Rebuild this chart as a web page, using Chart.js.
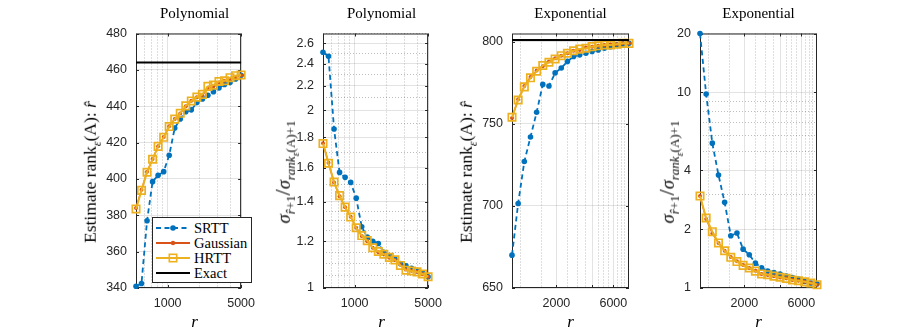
<!DOCTYPE html>
<html><head><meta charset="utf-8">
<script src="https://cdn.jsdelivr.net/npm/chart.js@4.4.0/dist/chart.umd.min.js"></script>
<style>
html,body{margin:0;padding:0;background:#fff;}
body{width:913px;height:332px;position:relative;overflow:hidden;}
canvas{position:absolute;}
.t{position:absolute;font-family:'Liberation Serif','Times New Roman',serif;color:#000;white-space:nowrap;line-height:1;}
.ttl{font-size:15px;transform:translate(-50%,-50%);}
.xl{font-size:17px;font-style:italic;transform:translate(-50%,-50%);}
.yl{font-size:17.5px;transform:translate(-50%,-50%) rotate(-90deg);}
.yl sub{font-size:12px;}
.ys{font-size:18.5px;transform:translate(-50%,-50%) rotate(-90deg);}
.ys sub{font-size:13px;}
.ys sub sub{font-size:10px;}
#legend{position:absolute;left:152px;top:217px;width:100px;height:66px;border:1px solid #262626;background:#fff;box-sizing:border-box;}
#legend .row{position:absolute;left:2px;height:14px;display:flex;align-items:center;}
#legend .row span{font-family:'Liberation Serif','Times New Roman',serif;font-size:14.5px;margin-left:3px;line-height:1;}
</style>
</head><body>
<canvas id="c1" width="172" height="301"></canvas>
<canvas id="c2" width="172" height="301"></canvas>
<canvas id="c3" width="172" height="301"></canvas>
<canvas id="c4" width="172" height="301"></canvas>

<div class="t ttl" style="left:194.5px;top:13px;">Polynomial</div>
<div class="t ttl" style="left:381.5px;top:13px;">Polynomial</div>
<div class="t ttl" style="left:570.5px;top:13px;">Exponential</div>
<div class="t ttl" style="left:758.5px;top:13px;">Exponential</div>

<div class="t xl" style="left:194.5px;top:321px;">r</div>
<div class="t xl" style="left:381.5px;top:321px;">r</div>
<div class="t xl" style="left:570.5px;top:321px;">r</div>
<div class="t xl" style="left:758.5px;top:321px;">r</div>

<div class="t yl" style="left:92px;top:172px;">Estimate rank<sub><i>ε</i></sub>(A): <i>r&#770;</i></div>
<div class="t yl" style="left:468px;top:172px;">Estimate rank<sub><i>ε</i></sub>(A): <i>r&#770;</i></div>
<div class="t ys" style="left:286px;top:172px;"><i>σ</i><sub><i>r&#770;</i>+1</sub><span style="font-size:22px">/</span><i>σ</i><sub><i>rank</i><sub><i>ε</i></sub>(A)+1</sub></div>
<div class="t ys" style="left:670px;top:172px;"><i>σ</i><sub><i>r&#770;</i>+1</sub><span style="font-size:22px">/</span><i>σ</i><sub><i>rank</i><sub><i>ε</i></sub>(A)+1</sub></div>

<div id="legend">
  <div class="row" style="top:3px;"><svg width="36" height="12"><line x1="1" y1="6" x2="35" y2="6" stroke="#0072BD" stroke-width="1.8" stroke-dasharray="5,3.5"/><circle cx="18" cy="6" r="2.8" fill="#0072BD"/></svg><span>SRTT</span></div>
  <div class="row" style="top:18px;"><svg width="36" height="12"><line x1="1" y1="6" x2="35" y2="6" stroke="#D95319" stroke-width="1.8"/><circle cx="18" cy="6" r="2.2" fill="#D95319"/></svg><span>Gaussian</span></div>
  <div class="row" style="top:33px;"><svg width="36" height="12"><line x1="1" y1="6" x2="35" y2="6" stroke="#EDB120" stroke-width="1.8"/><rect x="14.3" y="2.3" width="7.4" height="7.4" fill="none" stroke="#EDB120" stroke-width="1.6"/></svg><span>HRTT</span></div>
  <div class="row" style="top:48px;"><svg width="36" height="12"><line x1="1" y1="6" x2="35" y2="6" stroke="#000" stroke-width="2"/></svg><span>Exact</span></div>
</div>

<script>
// ---------------- data ----------------
const rPoly = [500, 564, 637, 719, 812, 917, 1035, 1168, 1318, 1488, 1680, 1896, 2141, 2416, 2728, 3079, 3476, 3924, 4429, 5000];
const rExp  = [850, 957, 1078, 1214, 1367, 1539, 1733, 1952, 2198, 2475, 2787, 3138, 3534, 3979, 4481, 5046, 5682, 6398, 7205, 8113];

const polyExact = 464;
const polyRankSRTT  = [341, 342.5, 377, 398.5, 402, 404, 413, 428, 433, 437, 438, 442, 444, 446, 448, 450, 452, 453, 455, 457];
const polyRankGauss = [384, 394, 404, 411, 418, 423, 429, 433, 436, 440, 443, 445, 446, 450, 451, 453, 454, 455, 456, 457];
const polyRankHRTT  = [383.5, 393.7, 403.7, 410.8, 417.9, 422.9, 428.8, 432.9, 436.1, 440.2, 442.9, 445, 446.5, 450.9, 451.6, 453.6, 454, 455.7, 456.8, 457.2];

const polyRatioSRTT  = [2.51, 2.47, 1.86, 1.57, 1.54, 1.51, 1.42, 1.27, 1.22, 1.2, 1.19, 1.15, 1.135, 1.12, 1.1, 1.09, 1.08, 1.07, 1.06, 1.045];
const polyRatioGauss = [1.76, 1.63, 1.51, 1.43, 1.37, 1.32, 1.265, 1.225, 1.2, 1.17, 1.15, 1.14, 1.125, 1.115, 1.095, 1.075, 1.07, 1.065, 1.055, 1.045];
const polyRatioHRTT  = [1.757, 1.627, 1.512, 1.434, 1.371, 1.319, 1.265, 1.227, 1.203, 1.17, 1.153, 1.141, 1.127, 1.116, 1.092, 1.072, 1.069, 1.065, 1.056, 1.045];

const expExact = 801;
const expRankSRTT  = [670, 701.5, 727, 742, 757, 774, 773, 781, 784, 788, 791, 792, 793, 794, 795, 796, 797, 798, 798.5, 799];
const expRankGauss = [753.5, 765, 773, 778.5, 782.5, 785, 788, 790, 791.5, 793, 794.5, 795, 796.5, 797, 797.5, 798, 798.5, 798.5, 799, 799];
const expRankHRTT  = [754, 764.5, 772.5, 778, 782, 785.5, 787.5, 789.5, 791.5, 793, 794.5, 795.5, 796, 797, 797.5, 798, 798, 798.5, 799, 799];

const expRatioSRTT  = [20, 9.8, 5.5, 3.78, 2.74, 1.85, 1.91, 1.58, 1.48, 1.34, 1.27, 1.22, 1.2, 1.18, 1.15, 1.13, 1.11, 1.08, 1.06, 1.05];
const expRatioGauss = [2.95, 2.25, 1.9, 1.7, 1.55, 1.44, 1.37, 1.31, 1.265, 1.225, 1.18, 1.165, 1.15, 1.13, 1.12, 1.1, 1.09, 1.075, 1.06, 1.04];
const expRatioHRTT  = [2.95, 2.28, 1.94, 1.7, 1.55, 1.435, 1.365, 1.305, 1.265, 1.22, 1.18, 1.17, 1.15, 1.135, 1.12, 1.1, 1.09, 1.075, 1.06, 1.04];

// tick values / labels
const polyXTicks  = [500, 600, 700, 800, 900, 1000, 2000, 3000, 4000, 5000];
const polyXLabels = [1000, 5000];
const polyXMajor  = [1000, 5000];
const expXTicks   = [1000, 1500, 2000, 2500, 3000, 3500, 4000, 4500, 5000, 5500, 6000, 6500, 7000, 7500, 8000];
const expXLabels  = [2000, 6000];
const expXMajor   = [2000, 4000, 6000];

const rank1YTicks = [340, 360, 380, 400, 420, 440, 460, 480];
const ratio1YTicks = [1, 1.05, 1.1, 1.15, 1.2, 1.25, 1.3, 1.35, 1.4, 1.5, 1.6, 1.7, 1.8, 1.9, 2, 2.1, 2.2, 2.3, 2.4, 2.5, 2.6, 2.7];
const ratio1YLabels = [1, 1.2, 1.4, 1.6, 1.8, 2, 2.2, 2.4, 2.6];
const rank2YTicks = [650, 700, 750, 800];
const ratio2YTicks = [1, 2, 3, 4, 5, 6, 7, 8, 9, 10, 20];
const ratio2YLabels = [1, 2, 4, 10, 20];

// ---------------- drawing ----------------
const SANS = "'Liberation Sans', Arial, Helvetica, sans-serif";
const AX = '#262626';
const PLOT_LEFT = [136, 323, 512, 700];
const PLOT_W = 117, PLOT_H = 263, PLOT_TOP = 25;
const PAD_L = 45, PAD_T = 8, PAD_R = 10, PAD_B = 30;

function pts(xs, ys) { return xs.map((x, i) => ({x: x, y: ys[i]})); }

function axis(isX, type, min, max, vals, labels, majors) {
  return {
    type: type, min: min, max: max,
    afterBuildTicks: s => { s.ticks = vals.map(v => ({value: v})); },
    afterFit: s => { if (isX) s.height = PAD_B; else s.width = PAD_L; },
    ticks: {
      autoSkip: false, maxRotation: 0, minRotation: 0,
      padding: isX ? 8 : 9, color: AX,
      font: {family: SANS, size: 12.5},
      callback: v => labels.includes(v) ? String(v) : ''
    },
    grid: {
      drawTicks: false, lineWidth: 1,
      color: c => (c.tick && majors.includes(c.tick.value)) ? 'rgba(0,0,0,0.11)' : 'rgba(0,0,0,0.26)'
    },
    border: {
      display: false,
      dash: c => (c.tick && majors.includes(c.tick.value)) ? [] : [1, 2]
    }
  };
}

const boxPlugin = {
  id: 'box',
  beforeDatasetsDraw(chart, args, opts) {
    const {ctx, chartArea: a, scales} = chart;
    ctx.save();
    ctx.strokeStyle = AX;
    ctx.lineWidth = 1;
    ctx.strokeRect(a.left + 0.5, a.top + 0.5, a.right - a.left - 1, a.bottom - a.top - 1);
    const tl = 3;
    ctx.beginPath();
    (opts.xMajor || []).forEach(v => {
      const p = Math.round(scales.x.getPixelForValue(v)) + 0.5;
      ctx.moveTo(p, a.bottom); ctx.lineTo(p, a.bottom - tl);
      ctx.moveTo(p, a.top); ctx.lineTo(p, a.top + tl);
    });
    (opts.yMajor || []).forEach(v => {
      const p = Math.round(scales.y.getPixelForValue(v)) + 0.5;
      ctx.moveTo(a.left, p); ctx.lineTo(a.left + tl, p);
      ctx.moveTo(a.right, p); ctx.lineTo(a.right - tl, p);
    });
    ctx.stroke();
    ctx.restore();
  }
};

function seriesSets(xs, s, g, h, exact) {
  const d = [
    {label: 'SRTT', data: pts(xs, s), borderColor: '#0072BD', borderWidth: 1.8, borderDash: [5, 3.5],
     pointRadius: 2.8, pointBackgroundColor: '#0072BD', pointBorderColor: '#0072BD', pointBorderWidth: 0, order: 4},
    {label: 'Gaussian', data: pts(xs, g), borderColor: '#D95319', borderWidth: 1.4,
     pointRadius: 2, pointBackgroundColor: '#D95319', pointBorderColor: '#D95319', pointBorderWidth: 0, order: 3},
    {label: 'HRTT', data: pts(xs, h), borderColor: '#EDB120', borderWidth: 2, pointStyle: 'rect',
     pointRadius: 5.2, pointBackgroundColor: 'rgba(0,0,0,0)', pointBorderColor: '#EDB120', pointBorderWidth: 1.7, order: 2}
  ];
  if (exact !== undefined) {
    d.push({label: 'Exact', data: [{x: xs[0], y: exact}, {x: xs[xs.length - 1], y: exact}],
      borderColor: '#000', borderWidth: 2, pointRadius: 0, order: 1});
  }
  d.forEach(ds => { ds.fill = false; ds.tension = 0; ds.clip = false; });
  return d;
}

function make(id, idx, datasets, xAxis, yAxis, xMajor, yMajor) {
  const cv = document.getElementById(id);
  cv.style.left = (PLOT_LEFT[idx] - PAD_L) + 'px';
  cv.style.top = (PLOT_TOP - PAD_T) + 'px';
  cv.style.width = (PAD_L + PLOT_W + PAD_R) + 'px';
  cv.style.height = (PAD_T + PLOT_H + PAD_B) + 'px';
  cv.width = PAD_L + PLOT_W + PAD_R;
  cv.height = PAD_T + PLOT_H + PAD_B;
  new Chart(cv, {
    type: 'line',
    data: {datasets: datasets},
    plugins: [boxPlugin],
    options: {
      responsive: false, animation: false, devicePixelRatio: 1,
      layout: {padding: {top: PAD_T, right: PAD_R, left: 0, bottom: 0}},
      plugins: {legend: {display: false}, tooltip: {enabled: false}, box: {xMajor: xMajor, yMajor: yMajor}},
      scales: {x: xAxis, y: yAxis}
    }
  });
}

make('c1', 0, seriesSets(rPoly, polyRankSRTT, polyRankGauss, polyRankHRTT, polyExact),
  axis(true, 'logarithmic', 500, 5000, polyXTicks, polyXLabels, polyXMajor),
  axis(false, 'linear', 340, 480, rank1YTicks, rank1YTicks, rank1YTicks), polyXMajor, rank1YTicks);

make('c2', 1, seriesSets(rPoly, polyRatioSRTT, polyRatioGauss, polyRatioHRTT),
  axis(true, 'logarithmic', 500, 5000, polyXTicks, polyXLabels, polyXMajor),
  axis(false, 'logarithmic', 1, 2.7, ratio1YTicks, ratio1YLabels, ratio1YLabels), polyXMajor, ratio1YLabels);

make('c3', 2, seriesSets(rExp, expRankSRTT, expRankGauss, expRankHRTT, expExact),
  axis(true, 'logarithmic', 850, 8113, expXTicks, expXLabels, expXMajor),
  axis(false, 'linear', 650, 805, rank2YTicks, rank2YTicks, rank2YTicks), expXMajor, rank2YTicks);

make('c4', 3, seriesSets(rExp, expRatioSRTT, expRatioGauss, expRatioHRTT),
  axis(true, 'logarithmic', 850, 8113, expXTicks, expXLabels, expXMajor),
  axis(false, 'logarithmic', 1, 20, ratio2YTicks, ratio2YLabels, ratio2YLabels), expXMajor, ratio2YLabels);
</script>
</body></html>
